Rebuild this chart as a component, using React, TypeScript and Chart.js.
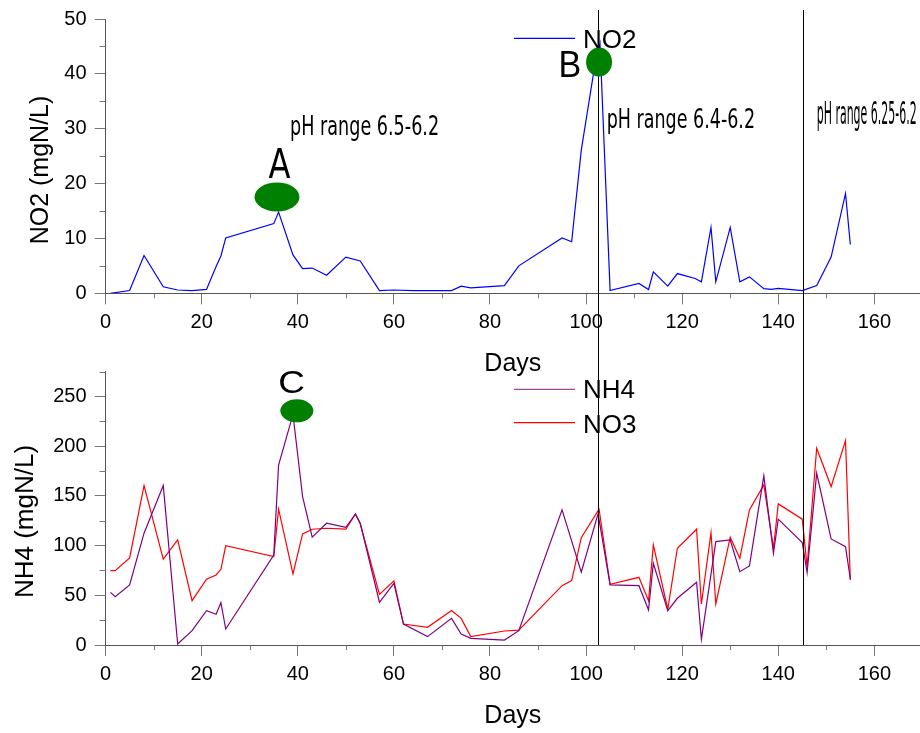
import React, { useEffect, useRef } from 'react';
import { Chart, registerables } from 'chart.js';

Chart.register(...registerables);

// ---------------- data ----------------
const no2Days = [1, 5, 8, 12, 15, 18, 21, 23, 24, 25, 35, 36, 39, 41, 43, 46, 50, 53, 57, 60, 64, 67, 72, 74, 76, 83, 86, 95, 97, 99, 101.5, 102.9, 105, 111, 113, 114, 117, 119, 122.7, 124, 126, 127, 130, 132, 134, 137, 138.6, 140, 145, 148, 151, 154, 155];
const no2Values = [0, 0.5, 6.9, 1.2, 0.6, 0.5, 0.7, 4.9, 6.8, 10.1, 12.7, 14.8, 7.0, 4.5, 4.6, 3.3, 6.6, 5.9, 0.5, 0.6, 0.5, 0.5, 0.5, 1.3, 1.0, 1.4, 5.0, 10.1, 9.4, 26.1, 39.8, 45.5, 0.5, 1.8, 0.7, 3.9, 1.3, 3.6, 2.7, 2.1, 12.0, 2.1, 12.0, 2.1, 3.0, 0.85, 0.7, 0.9, 0.5, 1.4, 6.6, 18.2, 8.9];

const nh4Days = [1, 2, 5, 8, 12, 15, 18, 21, 23, 24, 25, 35, 36, 39, 41, 43, 46, 50, 52, 53, 57, 60, 62, 67, 72, 74, 76, 83, 86, 95, 99, 102.5, 105, 111, 113, 114, 117, 119, 123, 124, 127, 130, 132, 134, 137, 139, 140, 145, 146, 148, 151, 154, 155];
const nh4Values = [53, 48.6, 60.4, 112.5, 160.4, 1, 14.4, 34.5, 30.9, 42.6, 16.1, 90.6, 181, 232, 149.4, 108.5, 122.5, 118.5, 131.6, 122.5, 43, 62, 21.1, 8.4, 26.8, 11, 6.7, 5, 14.4, 136, 73.2, 132, 60.4, 59.7, 35.2, 82.3, 34.5, 47, 63.1, 5.7, 104, 105.7, 73.8, 79.6, 170.2, 92.3, 126.6, 103, 72.8, 172.9, 106.7, 99, 66.2];

const no3Days = [1, 2, 5, 8, 12, 15, 18, 21, 23, 24, 25, 35, 36, 39, 41, 43, 46, 50, 52, 53, 57, 60, 62, 67, 72, 74, 76, 83, 86, 95, 97, 99, 102.7, 105, 111, 113, 114, 117, 119, 123, 124, 126, 127, 130, 132, 134, 137, 139, 140, 145, 146, 148, 151, 154, 155];
const no3Values = [74.8, 74.8, 87.6, 160.4, 86.3, 105.7, 44.6, 66.2, 70.5, 76.2, 100, 89, 136.6, 71.5, 111.8, 116.5, 117.5, 116.5, 131.9, 122, 51, 64.5, 21.1, 17.8, 34.6, 26.8, 8.4, 14.1, 15, 59.7, 64.8, 108, 136.6, 61, 68.1, 44.6, 100.7, 36, 97.4, 116.5, 41.3, 113.1, 41.3, 108.5, 87.3, 136, 161.1, 97.4, 142, 126.6, 78.9, 198, 159.4, 205.8, 65.5];

// axis ticks
const xMin = 0;
const xMax = 169.5;
const xMajorStep = 20;
const xMinorTicks = [10, 30, 50, 70, 90, 110, 130, 150];
const no2AxisMax = 50;
const no2MajorStep = 10;
const no2MinorTicks = [5, 15, 25, 35, 45];
const nh4AxisMax = 275;
const nh4MajorStep = 50;
const nh4MinorTicks = [25, 75, 125, 175, 225, 275];

// pH regime boundaries (days)
const phBoundaries = [102.5, 145.2];

// labels
const xTitle = 'Days';
const no2Title = 'NO2 (mgN/L)';
const nh4Title = 'NH4 (mgN/L)';
const phLabels = ['pH range 6.5-6.2', 'pH range 6.4-6.2', 'pH range 6.25-6.2'];
const phLabelDays = [38.4, 104.3, 148];
const phLabelValues = [28.8, 30.2, 30.9];

// ---------------- styling ----------------
const FONT = "'Liberation Sans', Arial, Helvetica, sans-serif";
const W = 920;
const TOP_H = 380;
const BOT_TOP = 340;
const BOT_H = 393;
const AXIS_W = 105.6;
const AXIS_COLOR = '#555';
const TICK_COLOR = '#777';
const BLUE = '#0000ff';
const PURPLE = '#800080';
const RED = '#ff0000';
const GREEN = '#008000';

function drawFitted(ctx: CanvasRenderingContext2D, text: string, font: string, x: number, baseline: number, width: number, align: 'left' | 'center') {
  ctx.save();
  ctx.font = font;
  ctx.textBaseline = 'alphabetic';
  ctx.textAlign = 'left';
  const w = ctx.measureText(text).width;
  const s = width / w;
  ctx.translate(align === 'center' ? x - width / 2 : x, baseline);
  ctx.scale(s, 1);
  ctx.fillStyle = '#000';
  ctx.fillText(text, 0, 0);
  ctx.restore();
}

function ellipse(ctx: CanvasRenderingContext2D, cx: number, cy: number, rx: number, ry: number) {
  ctx.save();
  ctx.fillStyle = GREEN;
  ctx.beginPath();
  ctx.ellipse(cx, cy, rx, ry, 0, 0, Math.PI * 2);
  ctx.fill();
  ctx.restore();
}

function minorTicks(chart: any, yMinor: number[]) {
  const { ctx, chartArea, scales } = chart;
  ctx.save();
  ctx.strokeStyle = TICK_COLOR;
  ctx.lineWidth = 1;
  ctx.beginPath();
  for (const v of xMinorTicks) {
    const px = Math.round(scales.x.getPixelForValue(v)) + 0.5;
    ctx.moveTo(px, chartArea.bottom);
    ctx.lineTo(px, chartArea.bottom + 5);
  }
  for (const v of yMinor) {
    const py = Math.round(scales.y.getPixelForValue(v)) + 0.5;
    ctx.moveTo(chartArea.left - 6, py);
    ctx.lineTo(chartArea.left, py);
  }
  ctx.stroke();
  ctx.restore();
}

function boundaryLines(chart: any, y0: number, y1: number) {
  const { ctx, scales } = chart;
  ctx.save();
  ctx.strokeStyle = '#000';
  ctx.lineWidth = 1;
  ctx.beginPath();
  for (const d of phBoundaries) {
    const px = Math.round(scales.x.getPixelForValue(d)) + 0.5;
    ctx.moveTo(px, y0);
    ctx.lineTo(px, y1);
  }
  ctx.stroke();
  ctx.restore();
}

function legendItem(ctx: CanvasRenderingContext2D, color: string, text: string, lineY: number, baseline: number) {
  ctx.save();
  ctx.strokeStyle = color;
  ctx.lineWidth = 1.3;
  ctx.beginPath();
  ctx.moveTo(514, lineY);
  ctx.lineTo(575, lineY);
  ctx.stroke();
  ctx.fillStyle = '#000';
  ctx.font = `26px ${FONT}`;
  ctx.textAlign = 'left';
  ctx.textBaseline = 'alphabetic';
  ctx.fillText(text, 583, baseline);
  ctx.restore();
}

function yTitle(ctx: CanvasRenderingContext2D, text: string, x: number, cy: number, size: number) {
  ctx.save();
  ctx.translate(x, cy);
  ctx.rotate(-Math.PI / 2);
  ctx.fillStyle = '#000';
  ctx.font = `${size}px ${FONT}`;
  ctx.textAlign = 'center';
  ctx.textBaseline = 'alphabetic';
  ctx.fillText(text, 0, 0);
  ctx.restore();
}

const topDecor = {
  id: 'topDecor',
  afterDraw(chart: any) {
    const { ctx, scales } = chart;
    const X = (d: number) => scales.x.getPixelForValue(d);
    const Y = (v: number) => scales.y.getPixelForValue(v);
    minorTicks(chart, no2MinorTicks);
    boundaryLines(chart, 10, TOP_H - 20);
    // markers A and B
    ellipse(ctx, X(35.67), Y(17.55), 22.5, 14.5);
    ellipse(ctx, X(102.7), Y(42.16), 13, 14.5);
    drawFitted(ctx, 'A', `40px 'DejaVu Sans', ${FONT}`, X(36.2), Y(21.0), 22, 'center');
    drawFitted(ctx, 'B', `37px ${FONT}`, X(96.6), Y(39.5), 22.7, 'center');
    // pH labels
    drawFitted(ctx, phLabels[0], `27px 'DejaVu Sans', ${FONT}`, X(phLabelDays[0]), Y(phLabelValues[0]), 149, 'left');
    drawFitted(ctx, phLabels[1], `27px 'DejaVu Sans', ${FONT}`, X(phLabelDays[1]), Y(phLabelValues[1]), 148.3, 'left');
    drawFitted(ctx, phLabels[2], `32px 'DejaVu Sans', ${FONT}`, X(phLabelDays[2]), Y(phLabelValues[2]), 100, 'left');
    legendItem(ctx, BLUE, 'NO2', 38.3, 48.3);
    yTitle(ctx, no2Title, 48, 170, 25);
  },
};

const bottomDecor = {
  id: 'bottomDecor',
  afterDraw(chart: any) {
    const { ctx, scales, chartArea } = chart;
    const X = (d: number) => scales.x.getPixelForValue(d);
    const Y = (v: number) => scales.y.getPixelForValue(v);
    minorTicks(chart, nh4MinorTicks);
    boundaryLines(chart, TOP_H - 20 - BOT_TOP, chartArea.bottom);
    ellipse(ctx, X(39.8), Y(235.7), 16.5, 11.5);
    drawFitted(ctx, 'C', `32px ${FONT}`, X(38.7), Y(253.9), 26.7, 'center');
    legendItem(ctx, '#9a4a9a', 'NH4', 389.3 - BOT_TOP, 398.3 - BOT_TOP);
    legendItem(ctx, RED, 'NO3', 422.7 - BOT_TOP, 432.7 - BOT_TOP);
    yTitle(ctx, nh4Title, 32.5, 521.5 - BOT_TOP, 26);
  },
};

function xScale(canvasH: number, plotBottom: number, titlePad: number) {
  return {
    type: 'linear',
    min: xMin,
    max: xMax,
    afterFit: (s: any) => {
      s.height = canvasH - plotBottom;
      s.paddingLeft = 0;
      s.paddingRight = 0;
    },
    ticks: {
      stepSize: xMajorStep,
      includeBounds: false,
      autoSkip: false,
      maxRotation: 0,
      padding: 6,
      color: '#000',
      font: { family: FONT, size: 20 },
    },
    grid: { display: true, drawOnChartArea: false, drawTicks: true, tickLength: 11, color: TICK_COLOR, tickColor: TICK_COLOR },
    border: { display: true, color: AXIS_COLOR, width: 1 },
    title: { display: true, text: xTitle, color: '#000', font: { family: FONT, size: 25 }, padding: { top: 0, bottom: titlePad } },
  };
}

function yScale(max: number, step: number) {
  return {
    type: 'linear',
    min: 0,
    max,
    afterFit: (s: any) => {
      s.width = AXIS_W;
      s.paddingTop = 0;
      s.paddingBottom = 0;
    },
    ticks: {
      stepSize: step,
      includeBounds: false,
      autoSkip: false,
      padding: 8,
      color: '#000',
      font: { family: FONT, size: 20 },
    },
    grid: { display: true, drawOnChartArea: false, drawTicks: true, tickLength: 11, color: TICK_COLOR, tickColor: TICK_COLOR },
    border: { display: true, color: AXIS_COLOR, width: 1 },
  };
}

const pts = (xs: number[], ys: number[]) => xs.map((x, i) => ({ x, y: ys[i] }));

export default function App() {
  const topRef = useRef<HTMLCanvasElement>(null);
  const botRef = useRef<HTMLCanvasElement>(null);

  useEffect(() => {
    const top = new Chart(topRef.current as HTMLCanvasElement, {
      type: 'line',
      data: {
        datasets: [
          { label: 'NO2', data: pts(no2Days, no2Values), borderColor: BLUE, borderWidth: 1.2, pointRadius: 0, tension: 0, fill: false },
        ],
      },
      options: {
        responsive: false,
        animation: false,
        devicePixelRatio: 1,
        layout: { padding: { top: 19, left: 0, right: 0, bottom: 0 } },
        plugins: { legend: { display: false }, tooltip: { enabled: false } },
        scales: { x: xScale(TOP_H, 293.3, 1), y: yScale(no2AxisMax, no2MajorStep) } as any,
      },
      plugins: [topDecor],
    } as any);

    const bot = new Chart(botRef.current as HTMLCanvasElement, {
      type: 'line',
      data: {
        datasets: [
          { label: 'NH4', data: pts(nh4Days, nh4Values), borderColor: PURPLE, borderWidth: 1.2, pointRadius: 0, tension: 0, fill: false },
          { label: 'NO3', data: pts(no3Days, no3Values), borderColor: RED, borderWidth: 1.2, pointRadius: 0, tension: 0, fill: false },
        ],
      },
      options: {
        responsive: false,
        animation: false,
        devicePixelRatio: 1,
        layout: { padding: { top: 371.7 - BOT_TOP, left: 0, right: 0, bottom: 0 } },
        plugins: { legend: { display: false }, tooltip: { enabled: false } },
        scales: { x: xScale(BOT_H, 645 - BOT_TOP, 2), y: yScale(nh4AxisMax, nh4MajorStep) } as any,
      },
      plugins: [bottomDecor],
    } as any);

    return () => {
      top.destroy();
      bot.destroy();
    };
  }, []);

  return (
    <div style={{ position: 'absolute', left: 0, top: 0, width: W, height: 733, background: '#fff', overflow: 'hidden' }}>
      <canvas ref={topRef} width={W} height={TOP_H} style={{ position: 'absolute', left: 0, top: 0, width: W, height: TOP_H }} />
      <canvas ref={botRef} width={W} height={BOT_H} style={{ position: 'absolute', left: 0, top: BOT_TOP, width: W, height: BOT_H }} />
    </div>
  );
}
